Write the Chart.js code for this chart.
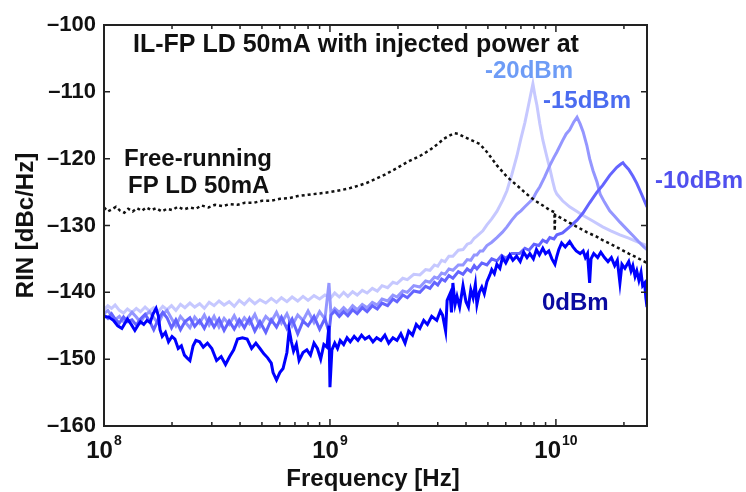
<!DOCTYPE html>
<html lang="en">
<head>
    <meta charset="UTF-8">
    <title>RIN of injection-locked FP LD</title>
    <script src="https://cdn.jsdelivr.net/npm/chart.js@4.4.0/dist/chart.umd.min.js"></script>
    <style>
        html, body { margin: 0; padding: 0; background: #fff; }
        #wrap { width: 746px; height: 492px; }
    </style>
</head>
<body>
    <div id="wrap"><canvas id="rinChart" width="746" height="492"></canvas></div>

    <script>
        // each entry: [frequency in GHz, RIN in dBc/Hz]
        const freeRunning = [[0.100,-127.3],[0.104,-127.9],[0.108,-127.6],[0.113,-127.2],[0.118,-127.8],[0.123,-128.1],[0.128,-127.5],[0.134,-127.9],[0.140,-127.4],[0.147,-127.8],[0.154,-127.3],[0.162,-127.7],[0.170,-127.4],[0.180,-127.9],[0.190,-127.5],[0.200,-127.7],[0.212,-127.2],[0.225,-127.6],[0.240,-127.3],[0.255,-127.5],[0.270,-127.0],[0.290,-127.3],[0.310,-126.9],[0.335,-127.1],[0.36,-126.8],[0.39,-126.9],[0.42,-126.6],[0.46,-126.6],[0.50,-126.3],[0.55,-126.3],[0.60,-126.0],[0.66,-125.9],[0.72,-125.6],[0.80,-125.4],[0.90,-125.2],[1.0,-125.0],[1.12,-124.7],[1.23,-124.4],[1.35,-124.0],[1.46,-123.6],[1.6,-123.0],[1.75,-122.4],[1.98,-121.4],[2.2,-120.5],[2.5,-119.6],[2.77,-118.7],[3.0,-117.8],[3.2,-117.0],[3.4,-116.5],[3.55,-116.2],[3.7,-116.3],[3.9,-116.7],[4.2,-117.2],[4.6,-117.8],[4.95,-119.0],[5.48,-121.0],[6.07,-122.7],[6.72,-124.0],[7.2,-124.9],[7.67,-125.7],[8.2,-126.4],[8.75,-127.0],[9.4,-127.7],[9.85,-128.0],[9.88,-130.8],[9.92,-128.4],[10.7,-129.0],[11.5,-129.6],[12.4,-130.2],[13.7,-131.0],[15.2,-131.7],[16.1,-132.2],[17.3,-132.7],[19.2,-133.5],[21.0,-134.2],[22.8,-134.8],[25.3,-135.6]];

        const inj20 = [[0.100,-142.6],[0.104,-142.0],[0.108,-142.4],[0.112,-141.9],[0.117,-142.7],[0.122,-143.1],[0.127,-142.5],[0.133,-143.0],[0.139,-142.4],[0.145,-142.9],[0.152,-142.2],[0.159,-142.8],[0.166,-142.3],[0.174,-142.9],[0.182,-142.1],[0.190,-142.6],[0.199,-142.0],[0.208,-142.7],[0.218,-141.8],[0.228,-142.3],[0.240,-141.6],[0.252,-142.2],[0.265,-141.7],[0.278,-142.4],[0.292,-141.5],[0.307,-142.0],[0.323,-141.3],[0.340,-141.9],[0.358,-141.4],[0.377,-142.1],[0.397,-141.2],[0.418,-141.8],[0.44,-141.0],[0.465,-141.7],[0.49,-141.1],[0.52,-141.6],[0.55,-140.9],[0.58,-141.5],[0.61,-140.8],[0.645,-141.4],[0.68,-140.7],[0.72,-141.3],[0.76,-140.6],[0.80,-141.2],[0.85,-140.5],[0.90,-141.0],[0.95,-140.4],[1.01,-140.8],[1.05,-140.1],[1.1,-140.7],[1.15,-140.0],[1.2,-140.6],[1.26,-139.9],[1.32,-140.4],[1.39,-139.7],[1.46,-140.1],[1.54,-139.4],[1.62,-139.8],[1.7,-139.0],[1.8,-139.3],[1.9,-138.5],[1.98,-138.7],[2.1,-137.9],[2.2,-138.1],[2.35,-137.3],[2.5,-137.4],[2.65,-136.6],[2.77,-136.7],[2.9,-135.9],[3.0,-136.1],[3.12,-135.2],[3.23,-135.4],[3.36,-134.6],[3.5,-134.6],[3.7,-133.7],[3.88,-133.6],[4.05,-132.8],[4.2,-132.6],[4.35,-131.9],[4.47,-131.6],[4.75,-130.8],[4.95,-129.9],[5.2,-129.0],[5.48,-127.9],[5.82,-126.2],[6.07,-124.8],[6.38,-122.4],[6.72,-119.6],[7.0,-117.0],[7.29,-114.6],[7.5,-112.6],[7.67,-111.0],[7.91,-108.8],[8.1,-110.8],[8.24,-112.0],[8.49,-114.8],[8.75,-117.2],[9.1,-119.6],[9.4,-121.5],[9.7,-123.5],[9.9,-124.7],[10.1,-125.3],[10.7,-126.3],[11.5,-127.2],[12.4,-127.9],[13.2,-128.5],[14.5,-129.3],[16.1,-130.2],[17.5,-130.8],[19.2,-131.4],[21.0,-131.9],[22.8,-132.4],[25.3,-133.0]];

        const inj15 = [[0.100,-143.2],[0.104,-142.7],[0.108,-143.5],[0.112,-144.1],[0.117,-143.6],[0.122,-144.4],[0.127,-143.8],[0.133,-143.0],[0.139,-143.7],[0.145,-144.5],[0.152,-143.4],[0.159,-142.9],[0.166,-143.8],[0.174,-144.7],[0.182,-143.3],[0.190,-142.7],[0.199,-143.9],[0.208,-145.0],[0.218,-143.6],[0.228,-144.4],[0.240,-145.3],[0.252,-143.7],[0.265,-144.6],[0.278,-143.4],[0.292,-144.9],[0.307,-143.6],[0.323,-145.2],[0.340,-143.9],[0.358,-144.8],[0.377,-143.5],[0.397,-145.0],[0.418,-143.8],[0.44,-144.7],[0.465,-143.3],[0.49,-145.1],[0.52,-143.6],[0.55,-144.4],[0.58,-143.0],[0.61,-144.6],[0.645,-143.2],[0.68,-145.0],[0.72,-143.4],[0.76,-144.2],[0.80,-142.8],[0.85,-144.5],[0.90,-142.9],[0.95,-144.0],[0.99,-138.6],[1.01,-143.2],[1.05,-142.4],[1.1,-143.0],[1.15,-142.3],[1.2,-142.9],[1.26,-142.0],[1.32,-142.6],[1.39,-141.8],[1.46,-142.3],[1.54,-141.5],[1.62,-141.9],[1.7,-141.0],[1.8,-141.3],[1.9,-140.4],[1.98,-140.7],[2.1,-139.8],[2.2,-140.0],[2.35,-139.0],[2.5,-139.2],[2.65,-138.3],[2.77,-138.5],[2.9,-137.7],[3.0,-137.9],[3.12,-137.1],[3.23,-137.3],[3.36,-136.5],[3.5,-136.7],[3.7,-135.9],[3.88,-135.9],[4.05,-135.1],[4.2,-135.2],[4.35,-134.4],[4.47,-134.4],[4.62,-133.8],[4.75,-133.8],[4.95,-133.0],[5.2,-132.5],[5.48,-131.8],[5.8,-131.0],[6.07,-130.2],[6.38,-129.2],[6.72,-128.3],[7.0,-127.8],[7.29,-127.2],[7.6,-126.6],[7.91,-126.0],[8.2,-125.0],[8.49,-124.2],[8.9,-122.8],[9.4,-121.0],[9.8,-119.8],[10.1,-119.0],[10.7,-117.3],[11.1,-116.3],[11.5,-115.7],[12.0,-114.5],[12.4,-113.8],[12.8,-114.8],[13.2,-116.0],[13.7,-118.0],[14.1,-120.0],[14.6,-121.8],[15.2,-123.5],[15.7,-125.3],[16.4,-126.5],[17.3,-127.8],[18.2,-128.6],[19.2,-129.5],[20.5,-130.5],[21.9,-131.5],[23.2,-132.4],[24.5,-133.2],[25.3,-133.6]];

        const inj10 = [[0.100,-143.4],[0.104,-143.9],[0.108,-143.2],[0.112,-144.0],[0.117,-144.6],[0.122,-143.7],[0.127,-144.4],[0.133,-144.1],[0.139,-144.9],[0.145,-144.0],[0.152,-143.3],[0.159,-144.3],[0.166,-145.6],[0.174,-144.0],[0.182,-143.0],[0.190,-143.8],[0.199,-145.3],[0.208,-144.1],[0.218,-145.6],[0.228,-144.4],[0.240,-143.8],[0.252,-145.1],[0.265,-144.2],[0.278,-145.4],[0.292,-143.9],[0.307,-145.2],[0.323,-144.0],[0.340,-145.7],[0.358,-144.3],[0.377,-145.5],[0.397,-144.1],[0.418,-145.3],[0.44,-143.9],[0.465,-145.8],[0.49,-144.4],[0.52,-146.0],[0.55,-144.1],[0.58,-145.2],[0.61,-143.7],[0.645,-145.4],[0.68,-144.0],[0.72,-146.2],[0.76,-144.3],[0.80,-145.0],[0.85,-143.6],[0.90,-145.5],[0.95,-143.9],[0.99,-146.0],[1.01,-143.4],[1.05,-142.8],[1.1,-143.6],[1.15,-142.9],[1.2,-143.5],[1.26,-142.6],[1.32,-143.2],[1.39,-142.3],[1.46,-142.9],[1.54,-142.0],[1.62,-142.5],[1.7,-141.6],[1.8,-142.0],[1.9,-141.0],[1.98,-141.4],[2.1,-140.4],[2.2,-140.8],[2.35,-139.8],[2.5,-140.0],[2.65,-139.1],[2.77,-139.4],[2.9,-138.5],[3.0,-138.9],[3.12,-138.0],[3.23,-138.3],[3.36,-137.5],[3.5,-137.9],[3.7,-136.9],[3.88,-137.3],[4.05,-136.5],[4.2,-136.9],[4.35,-136.0],[4.47,-136.5],[4.7,-135.6],[4.95,-135.9],[5.2,-135.0],[5.48,-135.3],[5.75,-134.5],[6.0,-134.9],[6.38,-134.2],[6.9,-134.2],[7.29,-133.4],[7.6,-133.7],[8.0,-132.8],[8.4,-133.0],[8.75,-132.2],[9.1,-132.5],[9.4,-131.8],[9.8,-132.0],[10.1,-131.4],[10.7,-131.1],[11.5,-130.2],[12.4,-129.2],[13.2,-128.1],[14.1,-126.6],[15.2,-125.0],[16.1,-124.0],[17.3,-122.5],[18.6,-121.3],[19.4,-120.8],[19.8,-120.6],[20.2,-121.0],[21.0,-121.6],[21.9,-122.6],[22.8,-123.7],[24.0,-125.4],[25.3,-127.2]];

        const inj0 = [[0.100,-143.6],[0.105,-143.7],[0.110,-144.2],[0.115,-145.0],[0.120,-145.4],[0.124,-144.6],[0.127,-144.0],[0.132,-144.8],[0.137,-145.7],[0.141,-145.0],[0.145,-144.4],[0.150,-144.8],[0.155,-144.2],[0.160,-144.5],[0.165,-143.2],[0.170,-142.4],[0.174,-143.5],[0.177,-145.6],[0.181,-146.6],[0.187,-146.0],[0.193,-147.4],[0.200,-146.6],[0.206,-147.0],[0.213,-148.4],[0.220,-148.0],[0.227,-149.4],[0.233,-149.8],[0.240,-150.2],[0.248,-148.0],[0.255,-147.2],[0.265,-147.4],[0.275,-148.2],[0.287,-147.6],[0.30,-148.4],[0.315,-150.2],[0.33,-149.6],[0.345,-150.8],[0.36,-149.6],[0.375,-148.6],[0.39,-147.0],[0.41,-146.8],[0.43,-147.0],[0.45,-148.4],[0.47,-147.6],[0.49,-148.4],[0.51,-149.2],[0.53,-149.8],[0.55,-150.6],[0.56,-152.0],[0.58,-153.1],[0.60,-152.0],[0.62,-151.4],[0.645,-149.0],[0.66,-145.6],[0.675,-147.4],[0.69,-148.8],[0.71,-147.8],[0.73,-150.2],[0.76,-149.0],[0.79,-148.6],[0.82,-149.4],[0.85,-147.6],[0.88,-148.4],[0.91,-150.0],[0.94,-147.8],[0.97,-148.2],[0.99,-145.0],[1.0,-154.2],[1.02,-148.6],[1.05,-147.6],[1.08,-148.4],[1.11,-147.2],[1.15,-147.8],[1.19,-146.8],[1.23,-147.4],[1.28,-146.6],[1.33,-147.2],[1.38,-146.4],[1.43,-147.0],[1.49,-146.6],[1.55,-147.4],[1.61,-146.8],[1.68,-147.2],[1.75,-146.4],[1.82,-147.6],[1.90,-146.8],[1.98,-147.2],[2.06,-146.2],[2.15,-147.6],[2.23,-145.8],[2.32,-146.4],[2.41,-144.8],[2.5,-145.4],[2.6,-144.2],[2.7,-144.8],[2.82,-143.6],[2.97,-144.2],[3.08,-142.8],[3.15,-143.4],[3.25,-145.8],[3.3,-141.2],[3.4,-140.2],[3.45,-143.0],[3.5,-138.6],[3.58,-141.8],[3.65,-140.6],[3.75,-142.2],[3.88,-139.0],[4.0,-141.4],[4.1,-142.2],[4.2,-139.6],[4.3,-140.8],[4.4,-138.8],[4.47,-141.8],[4.58,-140.0],[4.7,-139.2],[4.82,-140.2],[4.95,-138.4],[5.1,-137.4],[5.2,-136.6],[5.34,-137.2],[5.48,-135.8],[5.65,-136.4],[5.8,-134.8],[6.0,-135.6],[6.25,-134.4],[6.45,-135.2],[6.7,-134.6],[6.95,-135.4],[7.2,-134.0],[7.45,-134.8],[7.67,-134.2],[7.95,-135.0],[8.2,-133.6],[8.45,-134.4],[8.75,-133.4],[9.0,-134.2],[9.3,-133.8],[9.6,-135.0],[9.9,-135.8],[10.1,-134.6],[10.3,-133.6],[10.6,-132.6],[11.0,-133.2],[11.5,-132.4],[11.9,-133.2],[12.3,-133.8],[12.8,-134.2],[13.2,-133.8],[13.5,-134.8],[13.8,-134.2],[14.1,-138.6],[14.3,-135.0],[14.7,-134.2],[15.3,-134.8],[15.8,-134.0],[16.4,-134.8],[17.0,-135.4],[17.6,-134.8],[18.2,-136.0],[18.7,-135.2],[19.2,-138.6],[19.6,-135.8],[20.2,-136.4],[21.0,-135.4],[21.5,-136.8],[21.9,-136.0],[22.4,-137.6],[22.8,-136.8],[23.3,-138.2],[23.8,-137.0],[24.2,-139.0],[24.7,-138.6],[25.0,-140.8],[25.3,-142.2]];

        const yTicks = [-160, -150, -140, -130, -120, -110, -100];
        const xDecades = [8, 9, 10];

        function toPoints(pairs) {
            return pairs.map(p => ({ x: p[0] * 1e9, y: p[1] }));
        }

        const FONT = '"Liberation Sans", Arial, sans-serif';

        // box, inward ticks, decade labels, axis titles and annotations
        const decorPlugin = {
            id: 'decor',
            afterDraw(chart) {
                const { ctx, chartArea: a, scales: { x, y } } = chart;
                ctx.save();
                ctx.strokeStyle = '#222';
                ctx.lineWidth = 1.5;
                ctx.beginPath();
                xDecades.forEach(e => {
                    for (let m = 1; m <= 9; m++) {
                        const f = m * Math.pow(10, e);
                        if (f < x.min || f > x.max) continue;
                        const px = x.getPixelForValue(f);
                        const len = m === 1 ? 7 : 4;
                        ctx.moveTo(px, a.bottom); ctx.lineTo(px, a.bottom - len);
                        ctx.moveTo(px, a.top); ctx.lineTo(px, a.top + len);
                    }
                });
                yTicks.forEach(v => {
                    const py = y.getPixelForValue(v);
                    ctx.moveTo(a.left, py); ctx.lineTo(a.left + 6, py);
                    ctx.moveTo(a.right, py); ctx.lineTo(a.right - 6, py);
                });
                ctx.stroke();
                ctx.lineWidth = 2;
                ctx.strokeRect(a.left, a.top, a.right - a.left, a.bottom - a.top);

                // x decade labels 10^n
                ctx.fillStyle = '#111';
                ctx.textBaseline = 'alphabetic';
                ctx.textAlign = 'left';
                xDecades.forEach(e => {
                    const px = x.getPixelForValue(Math.pow(10, e));
                    ctx.font = 'bold 24px ' + FONT;
                    const wb = ctx.measureText('10').width;
                    ctx.font = 'bold 14px ' + FONT;
                    const we = ctx.measureText(String(e)).width;
                    const start = px - (wb + we + 1) / 2;
                    ctx.font = 'bold 24px ' + FONT;
                    ctx.fillText('10', start, 458);
                    ctx.font = 'bold 14px ' + FONT;
                    ctx.fillText(String(e), start + wb + 1, 445);
                });

                // axis titles
                ctx.font = 'bold 24px ' + FONT;
                ctx.textAlign = 'center';
                ctx.fillText('Frequency [Hz]', 373, 486);
                ctx.save();
                ctx.translate(33, (a.top + a.bottom) / 2);
                ctx.rotate(-Math.PI / 2);
                ctx.fillText('RIN [dBc/Hz]', 0, 0);
                ctx.restore();

                // annotations
                ctx.textAlign = 'left';
                ctx.font = 'bold 25px ' + FONT;
                ctx.fillStyle = '#111';
                ctx.fillText('IL-FP LD 50mA with injected power at', 133, 52);
                ctx.font = 'bold 24px ' + FONT;
                ctx.fillText('Free-running', 124, 166);
                ctx.fillText('FP LD 50mA', 128, 193);
                ctx.fillStyle = '#6e9cf6';
                ctx.fillText('-20dBm', 485, 78);
                ctx.fillStyle = '#4b6cf0';
                ctx.fillText('-15dBm', 543, 108);
                ctx.fillStyle = '#5050ee';
                ctx.fillText('-10dBm', 655, 188);
                ctx.fillStyle = '#0a0aa0';
                ctx.fillText('0dBm', 542, 310);
                ctx.restore();
            }
        };

        const ctx = document.getElementById('rinChart').getContext('2d');
        const rinChart = new Chart(ctx, {
            type: 'line',
            data: {
                datasets: [
                    { label: '0dBm', data: toPoints(inj0), borderColor: '#0000ff', borderWidth: 3, order: 0 },
                    { label: 'Free-running', data: toPoints(freeRunning), borderColor: '#111111', borderWidth: 2.5, borderDash: [3, 3], order: 1 },
                    { label: '-10dBm', data: toPoints(inj10), borderColor: '#6464ff', borderWidth: 3, order: 2 },
                    { label: '-15dBm', data: toPoints(inj15), borderColor: '#9496ff', borderWidth: 3, order: 3 },
                    { label: '-20dBm', data: toPoints(inj20), borderColor: '#c6c8ff', borderWidth: 3, order: 4 }
                ]
            },
            options: {
                responsive: false,
                animation: false,
                devicePixelRatio: 1,
                elements: {
                    point: { radius: 0 },
                    line: { tension: 0, fill: false }
                },
                layout: { padding: { top: 25, right: 99, left: 0, bottom: 0 } },
                plugins: {
                    legend: { display: false },
                    tooltip: { enabled: false }
                },
                scales: {
                    x: {
                        type: 'logarithmic',
                        min: 1e8,
                        max: 2.53e10,
                        grid: { display: false },
                        border: { display: false },
                        ticks: { display: false },
                        afterFit: s => { s.height = 66; }
                    },
                    y: {
                        min: -160,
                        max: -100,
                        grid: { display: false, drawTicks: false },
                        border: { display: false },
                        afterBuildTicks: s => { s.ticks = yTicks.map(v => ({ value: v })); },
                        ticks: {
                            padding: 8,
                            color: '#111',
                            font: { family: FONT, size: 22, weight: 'bold' },
                            callback: v => (v < 0 ? '\u2013' + Math.abs(v) : String(v))
                        },
                        afterFit: s => { s.width = 104; }
                    }
                }
            },
            plugins: [decorPlugin]
        });
    </script>
</body>
</html>
